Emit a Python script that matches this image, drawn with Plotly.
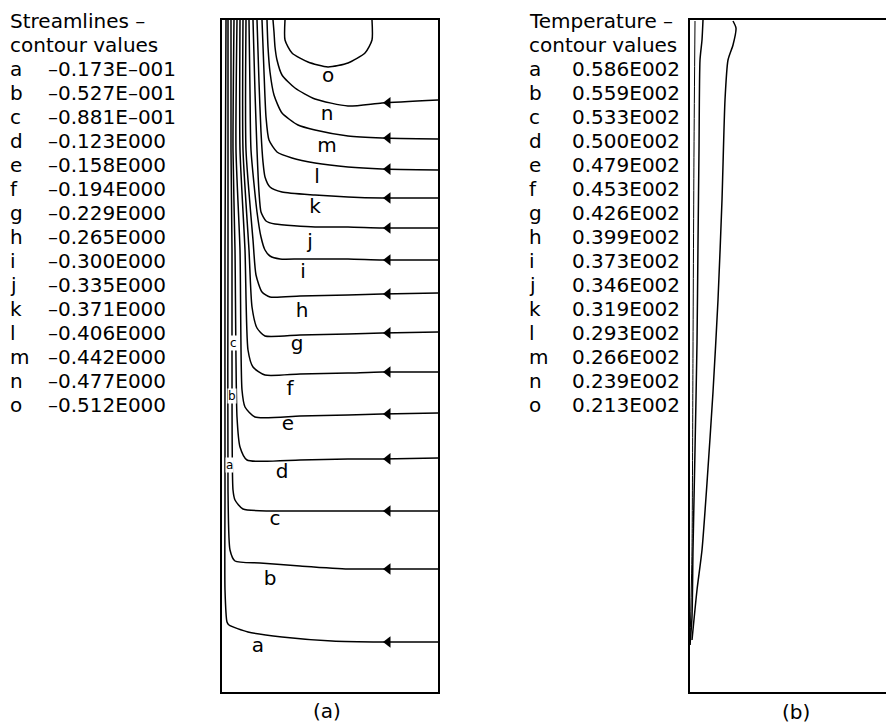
import numpy as np
import plotly.graph_objects as go

# The page body adds an 8px margin, so the figure is drawn 8px smaller and
# every pixel position below is shifted by that offset.
OFF = 8
W, H = 894 - OFF, 728 - OFF
FONT = "DejaVu Sans"

# ---------------- legend data ----------------
stream_letters = list("abcdefghijklmno")
stream_values = ["–0.173E–001", "–0.527E–001", "–0.881E–001", "–0.123E000",
                 "–0.158E000", "–0.194E000", "–0.229E000", "–0.265E000",
                 "–0.300E000", "–0.335E000", "–0.371E000", "–0.406E000",
                 "–0.442E000", "–0.477E000", "–0.512E000"]
temp_letters = list("abcdefghijklmno")
temp_values = ["0.586E002", "0.559E002", "0.533E002", "0.500E002", "0.479E002",
               "0.453E002", "0.426E002", "0.399E002", "0.373E002", "0.346E002",
               "0.319E002", "0.293E002", "0.266E002", "0.239E002", "0.213E002"]

# ---------------- streamlines (panel a; x 0-216, y 0-672) ----------------
stream_x = [
    [216, 160, 110, 60, 26, 7, 5, 3, 3, 3, 4],                 # a
    [216, 160, 126, 78, 38, 13, 8, 6, 6, 6, 6],                # b
    [216, 160, 126, 78, 21, 13, 11, 10, 10, 9, 9],             # c
    [216, 160, 126, 78, 25, 18, 15, 13, 11, 12],               # d
    [216, 160, 126, 78, 33, 23, 20, 18, 14, 15],               # e
    [216, 160, 126, 78, 43, 31, 26, 23, 18, 18],               # f
    [216, 160, 126, 78, 43, 35, 30, 27, 21, 21],               # g
    [216, 160, 126, 78, 48, 40, 34, 31, 24, 24],               # h
    [216, 160, 126, 78, 58, 48, 43, 39, 35, 29, 28, 27],       # i
    [216, 160, 126, 93, 53, 44, 39, 37, 35, 33, 31],           # j
    [216, 160, 126, 93, 60, 48, 43, 41, 39, 37, 35],           # k
    [216, 160, 126, 93, 70, 55, 47, 44, 42, 40],               # l
    [216, 160, 126, 93, 76, 60, 52, 48, 46, 45],               # m
    [216, 160, 126, 93, 73, 60, 55, 53, 52, 51],               # n
]
stream_y = [
    [50, 50, 51, 55, 60, 67, 70, 102, 202, 442, 672],
    [123, 123, 123, 126, 129, 131, 142, 202, 442, 542, 672],
    [181, 181, 181, 181, 183, 192, 202, 342, 442, 542, 672],
    [234, 233, 233, 232, 232, 245, 275, 442, 542, 672],
    [279, 278, 277, 276, 275, 285, 302, 442, 542, 672],
    [320, 320, 319, 318, 317, 325, 342, 442, 542, 672],
    [360, 359, 358, 357, 356, 364, 385, 442, 542, 672],
    [399, 398, 397, 396, 395, 400, 417, 452, 542, 672],
    [432, 432, 433, 433, 433, 436, 442, 455, 480, 542, 600, 672],
    [464, 464, 465, 465, 468, 471, 480, 500, 542, 600, 672],
    [494, 494, 495, 497, 500, 505, 515, 530, 560, 610, 672],
    [522, 523, 525, 529, 534, 540, 552, 575, 620, 672],
    [553, 554, 556, 562, 567, 579, 597, 620, 645, 672],
    [592, 589, 586, 593, 604, 617, 632, 645, 660, 672],
]
# closed recirculation contour o
loop_x = [63, 63, 70, 86, 106, 126, 143, 150, 150]
loop_y = [672, 652, 639, 630, 625, 629, 639, 652, 672]

arrow_x = 166
label_x = [36, 48, 53, 60, 66, 68, 75, 80, 81, 88, 93, 95, 105, 105, 106]
label_y = [45, 112, 172, 219, 267, 302, 347, 380, 419, 449, 484, 514, 545, 577, 615]
wall_letters = ["c", "b", "a"]
wall_x = [11, 10, 7]
wall_y = [349, 296, 227]

# ---------------- temperature contours (panel b) ----------------
temp_x = [
    [13, 12, 10, 9, 8, 7, 5, 3, 2, 0],
    [43, 46, 43, 38, 35, 32, 28, 23, 17, 12, 7, 2],
    [5, 4, 3, 2, 0],
]
temp_y = [
    [672, 652, 632, 542, 449, 349, 242, 142, 75, 47],
    [671, 664, 647, 632, 592, 492, 392, 300, 209, 142, 102, 52],
    [671, 542, 342, 142, 47],
]

fig = go.Figure()
line_style = dict(color="black", width=1.5, shape="spline", smoothing=0.6)

for xs, ys in zip(stream_x, stream_y):
    fig.add_trace(go.Scatter(x=xs, y=ys, mode="lines", line=line_style,
                             xaxis="x", yaxis="y", hoverinfo="skip", showlegend=False))
fig.add_trace(go.Scatter(x=loop_x, y=loop_y, mode="lines", line=line_style,
                         xaxis="x", yaxis="y", hoverinfo="skip", showlegend=False))

arrow_y = [float(np.interp(arrow_x, xs[:3][::-1], ys[:3][::-1])) for xs, ys in zip(stream_x, stream_y)]
fig.add_trace(go.Scatter(x=[arrow_x] * len(arrow_y), y=arrow_y, mode="markers",
                         marker=dict(symbol="triangle-left", size=10, color="black"),
                         xaxis="x", yaxis="y", hoverinfo="skip", showlegend=False))

fig.add_trace(go.Scatter(x=label_x, y=label_y, mode="text", text=stream_letters,
                         textfont=dict(family=FONT, size=20, color="black"),
                         xaxis="x", yaxis="y", hoverinfo="skip", showlegend=False))

for i, (xs, ys) in enumerate(zip(temp_x, temp_y)):
    fig.add_trace(go.Scatter(x=xs, y=ys, mode="lines",
                             line=dict(color="black", width=1.5 if i < 2 else 1,
                                       shape="spline", smoothing=0.6),
                             xaxis="x2", yaxis="y2", hoverinfo="skip", showlegend=False))

annotations = []
for t, xx, yy in zip(wall_letters, wall_x, wall_y):
    annotations.append(dict(x=xx, y=yy, xref="x", yref="y", text=t, showarrow=False,
                            font=dict(family=FONT, size=12, color="black"),
                            bgcolor="white", borderpad=0))


def ptxt(text, px, py, size=20, xanchor="left"):
    px = max(px, OFF + 1) if xanchor == "left" else px
    annotations.append(dict(x=(px - OFF) / W, y=1 - (py - OFF) / H, xref="paper", yref="paper",
                            text=text, showarrow=False, xanchor=xanchor, yanchor="middle",
                            borderpad=0, font=dict(family=FONT, size=size, color="black")))


step = 24.0
ptxt("Streamlines –", 9, 21)
ptxt("contour values", 9, 21 + step)
for i, (l, v) in enumerate(zip(stream_letters, stream_values)):
    ptxt(l, 9, 21 + (i + 2) * step)
    ptxt(v, 47, 21 + (i + 2) * step)

ptxt("Temperature –", 528, 21)
ptxt("contour values", 528, 21 + step)
for i, (l, v) in enumerate(zip(temp_letters, temp_values)):
    ptxt(l, 528, 21 + (i + 2) * step)
    ptxt(v, 571, 21 + (i + 2) * step)

ptxt("(a)", 327, 711, xanchor="center")
ptxt("(b)", 796, 712, xanchor="center")

ax_common = dict(showgrid=False, zeroline=False, showticklabels=False, ticks="",
                 showline=True, linecolor="black", linewidth=2, fixedrange=True)
ydom = [1 - (692 - OFF) / H, 1 - (20 - OFF) / H]

fig.update_layout(
    width=W, height=H, margin=dict(l=0, r=0, t=0, b=0),
    paper_bgcolor="white", plot_bgcolor="white", showlegend=False,
    xaxis=dict(domain=[(222 - OFF) / W, (438 - OFF) / W], range=[0, 216], mirror=True,
               anchor="y", **ax_common),
    yaxis=dict(domain=ydom, range=[0, 672], mirror=True, anchor="x", **ax_common),
    xaxis2=dict(domain=[(690 - OFF) / W, 1.0], range=[0, 204], mirror=True, anchor="y2",
                **ax_common),
    yaxis2=dict(domain=ydom, range=[0, 672], mirror=False, anchor="x2", **ax_common),
    annotations=annotations,
)

fig.write_html("out.html")
